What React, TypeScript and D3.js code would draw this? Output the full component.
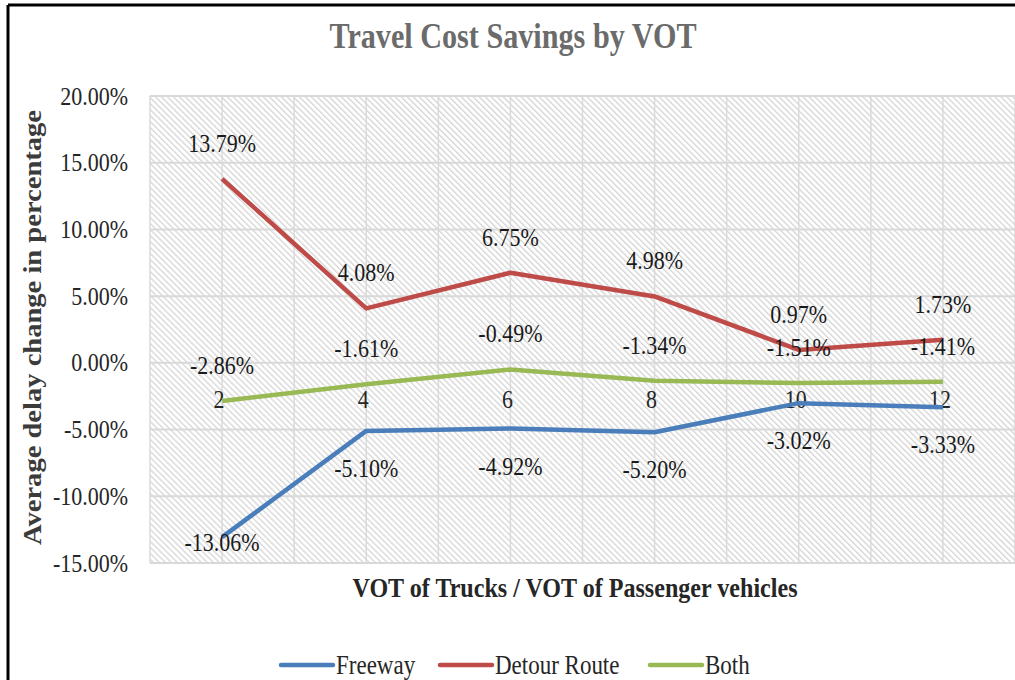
import React from "react";
import * as d3 from "d3";

const categories = ["2", "4", "6", "8", "10", "12"];
const freeway = [-13.06, -5.1, -4.92, -5.2, -3.02, -3.33];
const detour = [13.79, 4.08, 6.75, 4.98, 0.97, 1.73];
const both = [-2.86, -1.61, -0.49, -1.34, -1.51, -1.41];
const yTicks = [-15, -10, -5, 0, 5, 10, 15, 20];
const seriesNames = ["Freeway", "Detour Route", "Both"];
const seriesColors = ["#4a7ebb", "#be4b48", "#98b954"];

const W = 1015;
const H = 680;
const left = 150;
const right = 1015;
const top = 96;
const bottom = 563;
const serif = "Times New Roman, Liberation Serif, Tinos, serif";
const STRETCH = 1.15;

function T(props: {
  x: number;
  y: number;
  anchor?: string;
  size: number;
  fill?: string;
  weight?: string;
  children: React.ReactNode;
}) {
  return (
    <text
      transform={`translate(${props.x},${props.y}) scale(1,${STRETCH})`}
      textAnchor={props.anchor || "start"}
      style={{ fontFamily: serif }}
      fontSize={props.size}
      fontWeight={props.weight || "normal"}
      fill={props.fill || "#1f1f1f"}
    >
      {props.children}
    </text>
  );
}

export default function App() {
  const x = d3.scaleBand<string>().domain(categories).range([left, right]);
  const cx = (c: string) => (x(c) as number) + x.bandwidth() / 2;
  const y = d3.scaleLinear().domain([-15, 20]).range([bottom, top]);
  const line = d3
    .line<number>()
    .x((_, i) => cx(categories[i]))
    .y((d) => y(d));

  const vGrid: number[] = [];
  categories.forEach((c) => {
    vGrid.push(x(c) as number);
    vGrid.push(cx(c));
  });
  vGrid.push(right);

  const series = [freeway, detour, both];
  const labelPos = (si: number, v: number) => {
    const py = y(v);
    if (si === 0) {
      const c = Math.min(py + 38, bottom - 20);
      return c + 8;
    }
    return py - 35 + 8;
  };

  const legendX = [281, 440, 650];

  return (
    <div style={{ position: "absolute", left: 0, top: 0 }}>
      <svg width={W} height={H} style={{ display: "block", background: "#fff" }}>
        <defs>
          <pattern
            id="hatch"
            patternUnits="userSpaceOnUse"
            width={8}
            height={4.24}
            patternTransform="rotate(45)"
          >
            <rect width={8} height={4.24} fill="#ffffff" />
            <line x1={0} y1={1} x2={8} y2={1} stroke="#d5d5d5" strokeWidth={1.3} />
          </pattern>
        </defs>
        <rect x={0} y={0} width={W} height={H} fill="#fff" />
        {/* frame */}
        <line x1={8} y1={5} x2={W} y2={5} stroke="#000" strokeWidth={3} />
        <line x1={8} y1={5} x2={8} y2={H} stroke="#000" strokeWidth={3} />

        {/* title */}
        <text
          transform={`translate(513,48) scale(1,1.22)`}
          textAnchor="middle"
          style={{ fontFamily: serif }}
          fontWeight="bold"
          fontSize={30}
          fill="#6b6b6b"
          textLength={367}
          lengthAdjust="spacingAndGlyphs"
        >
          Travel Cost Savings by VOT
        </text>

        {/* plot area */}
        <rect x={left} y={top} width={right - left} height={bottom - top} fill="url(#hatch)" />
        {vGrid.map((gx, i) => (
          <line key={"v" + i} x1={gx} x2={gx} y1={top} y2={bottom} stroke="#dadada" strokeWidth={1.5} />
        ))}
        {yTicks.map((t) => (
          <line key={"h" + t} x1={left} x2={right} y1={y(t)} y2={y(t)} stroke="#d9d9d9" strokeWidth={2} />
        ))}

        {/* y tick labels */}
        {yTicks.map((t) => (
          <T key={"yt" + t} x={128} y={y(t) + 8.5} anchor="end" size={22} fill="#262626">
            {t.toFixed(2) + "%"}
          </T>
        ))}

        {/* y axis title */}
        <text
          transform={`translate(41, ${(110 + 545) / 2}) rotate(-90)`}
          textAnchor="middle"
          style={{ fontFamily: serif }}
          fontWeight="bold"
          fontSize={25}
          fill="#3b3b3b"
          textLength={435}
          lengthAdjust="spacingAndGlyphs"
        >
          Average delay change in percentage
        </text>

        {/* category labels */}
        {categories.map((c) => (
          <T key={"c" + c} x={cx(c) - 3} y={y(0) + 45} anchor="middle" size={22} fill="#262626">
            {c}
          </T>
        ))}

        {/* x axis title */}
        <text
          transform={`translate(575,597) scale(1,${STRETCH})`}
          textAnchor="middle"
          style={{ fontFamily: serif }}
          fontWeight="bold"
          fontSize={23}
          fill="#262626"
          textLength={445}
          lengthAdjust="spacingAndGlyphs"
        >
          VOT of Trucks / VOT of Passenger vehicles
        </text>

        {/* lines */}
        {series.map((s, si) => (
          <path
            key={"s" + si}
            d={line(s) as string}
            fill="none"
            stroke={seriesColors[si]}
            strokeWidth={4.5}
            strokeLinejoin="round"
            strokeLinecap="butt"
          />
        ))}

        {/* data labels */}
        {series.map((s, si) =>
          s.map((v, i) => (
            <T
              key={"l" + si + "-" + i}
              x={cx(categories[i])}
              y={labelPos(si, v)}
              anchor="middle"
              size={22}
              fill="#1a1a1a"
            >
              {v.toFixed(2) + "%"}
            </T>
          ))
        )}

        {/* legend */}
        {seriesNames.map((n, i) => (
          <g key={"lg" + i}>
            <line
              x1={legendX[i]}
              x2={legendX[i] + 52}
              y1={665}
              y2={665}
              stroke={seriesColors[i]}
              strokeWidth={4.5}
              strokeLinecap="round"
            />
            <T x={legendX[i] + 55} y={674} size={23} fill="#262626">
              {n}
            </T>
          </g>
        ))}
      </svg>
    </div>
  );
}
